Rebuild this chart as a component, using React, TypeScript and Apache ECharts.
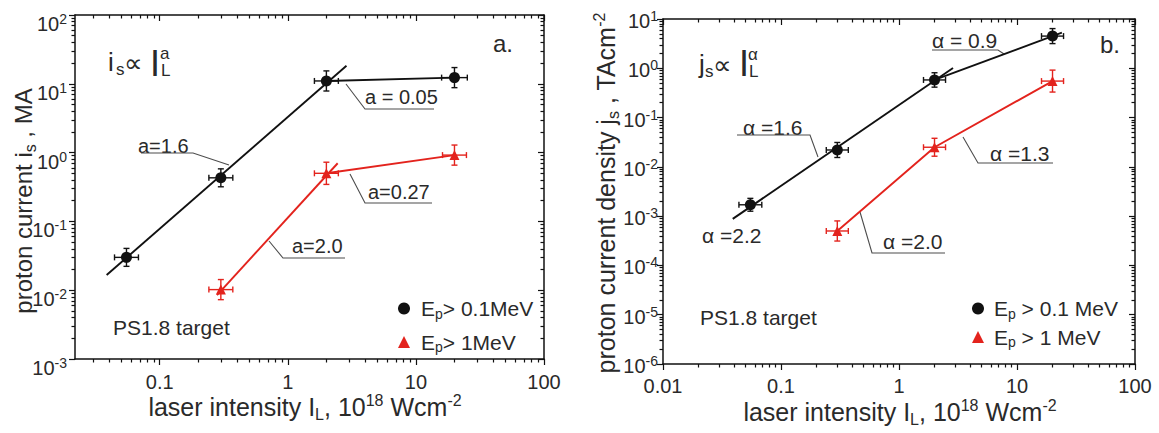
import React, { useEffect, useRef } from 'react';
import * as echarts from 'echarts';

const FONT = "'Liberation Sans', Arial, 'DejaVu Sans', sans-serif";
const TXT = '#2a2a2a';
const BLACK = '#111111';
const RED = '#e3231d';
const LEADER = '#4d4d4d';

// ---------------- Panel a ----------------
const aXRange = [0.0218, 100];
const aYRange = [1e-3, 100];
const aXTickValues = [0.1, 1, 10, 100];
const aXTickLabels = ['0.1', '1', '10', '100'];
const aYTickExponents = [-3, -2, -1, 0, 1, 2];

const aBlackIntensity = [0.055, 0.3, 2, 20];
const aBlackCurrent = [0.03, 0.43, 11, 12.3];
const aBlackXErr = [1.24, 1.24, 1.24, 1.26];
const aBlackYErr = [1.35, 1.35, 1.4, 1.4];
const aRedIntensity = [0.3, 2, 20];
const aRedCurrent = [0.0102, 0.5, 0.92];
const aRedXErr = [1.24, 1.24, 1.24];
const aRedYErr = [1.4, 1.45, 1.4];
const aBlackFitX = [0.0385, 2.87];
const aBlackFitY = [0.0166, 18.3];
const aRedFitX = [0.28, 2.45];
const aRedFitY = [0.0085, 0.7];
const aBlackTailX = [2, 20];
const aBlackTailY = [11, 12.3];
const aRedTailX = [2, 20];
const aRedTailY = [0.5, 0.92];

// ---------------- Panel b ----------------
const bXRange = [0.01, 100];
const bYRange = [1e-6, 10];
const bXTickValues = [0.01, 0.1, 1, 10, 100];
const bXTickLabels = ['0.01', '0.1', '1', '10', '100'];
const bYTickExponents = [-6, -5, -4, -3, -2, -1, 0, 1];

const bBlackIntensity = [0.055, 0.3, 2, 20];
const bBlackDensity = [0.0017, 0.022, 0.58, 4.5];
const bBlackXErr = [1.25, 1.24, 1.24, 1.24];
const bBlackYErr = [1.35, 1.42, 1.4, 1.42];
const bRedIntensity = [0.3, 2, 20];
const bRedDensity = [0.0005, 0.025, 0.55];
const bRedXErr = [1.24, 1.24, 1.24];
const bRedYErr = [1.6, 1.52, 1.67];
const bBlackFitX = [0.039, 2.87];
const bBlackFitY = [0.00088, 1.01];
const bBlackTailX = [2, 24];
const bBlackTailY = [0.58, 5.3];

const legendNamesA = ['Ep> 0.1MeV', 'Ep> 1MeV'];
const legendNamesB = ['Ep > 0.1 MeV', 'Ep > 1 MeV'];

const L = (v: number) => Math.log10(v);

function minorValues(lo: number, hi: number) {
  const out: number[] = [];
  for (let d = Math.floor(lo); d < Math.ceil(hi); d++) {
    for (let k = 2; k <= 9; k++) {
      const v = d + Math.log10(k);
      if (v >= lo - 1e-9 && v <= hi + 1e-9) out.push(v);
    }
  }
  return out;
}

const axisLineStyle = { color: BLACK, width: 1.5 };
const tickStyle = { color: BLACK, width: 1.2 };

function makeXAxes(grid: number, range: number[], vals: number[], labels: string[], margin: number) {
  const lo = L(range[0]);
  const hi = L(range[1]);
  const majors = vals.map(L);
  const minors = minorValues(lo, hi);
  const common = { type: 'value', gridIndex: grid, min: lo, max: hi, splitLine: { show: false } };
  return [
    {
      ...common,
      position: 'bottom',
      axisLine: { show: true, onZero: false, lineStyle: axisLineStyle },
      axisTick: { show: true, customValues: majors, length: 6, inside: false, lineStyle: tickStyle },
      axisLabel: {
        show: true,
        customValues: majors,
        margin,
        fontSize: 20,
        fontFamily: FONT,
        color: TXT,
        formatter: (v: number) => {
          const i = majors.findIndex((m) => Math.abs(m - v) < 1e-6);
          return i >= 0 ? labels[i] : '';
        },
      },
    },
    {
      ...common,
      position: 'bottom',
      axisLine: { show: false, onZero: false },
      axisTick: { show: true, customValues: minors, length: 3.5, inside: false, lineStyle: tickStyle },
      axisLabel: { show: false },
    },
    {
      ...common,
      position: 'top',
      axisLine: { show: true, onZero: false, lineStyle: axisLineStyle },
      axisTick: { show: true, customValues: majors, length: 6, inside: true, lineStyle: tickStyle },
      axisLabel: { show: false },
    },
    {
      ...common,
      position: 'top',
      axisLine: { show: false, onZero: false },
      axisTick: { show: true, customValues: minors, length: 3.5, inside: true, lineStyle: tickStyle },
      axisLabel: { show: false },
    },
  ];
}

function makeYAxes(grid: number, range: number[], exps: number[], margin: number, padTop: number, fs: number) {
  const lo = L(range[0]);
  const hi = L(range[1]);
  const majors = exps.slice();
  const minors = minorValues(lo, hi);
  const common = { type: 'value', gridIndex: grid, min: lo, max: hi, splitLine: { show: false } };
  return [
    {
      ...common,
      position: 'left',
      axisLine: { show: true, onZero: false, lineStyle: axisLineStyle },
      axisTick: { show: true, customValues: majors, length: 6, inside: false, lineStyle: tickStyle },
      axisLabel: {
        show: true,
        customValues: majors,
        margin,
        padding: [padTop, 0, 0, 0],
        formatter: (v: number) => `{b|10}{s|${Math.round(v)}}`,
        rich: {
          b: { fontSize: fs, lineHeight: fs + 2, verticalAlign: 'bottom', color: TXT, fontFamily: FONT },
          s: { fontSize: 14, lineHeight: 13, verticalAlign: 'top', color: TXT, fontFamily: FONT },
        },
      },
    },
    {
      ...common,
      position: 'left',
      axisLine: { show: false, onZero: false },
      axisTick: { show: true, customValues: minors, length: 3.5, inside: false, lineStyle: tickStyle },
      axisLabel: { show: false },
    },
    {
      ...common,
      position: 'right',
      axisLine: { show: true, onZero: false, lineStyle: axisLineStyle },
      axisTick: { show: true, customValues: majors, length: 6, inside: true, lineStyle: tickStyle },
      axisLabel: { show: false },
    },
    {
      ...common,
      position: 'right',
      axisLine: { show: false, onZero: false },
      axisTick: { show: true, customValues: minors, length: 3.5, inside: true, lineStyle: tickStyle },
      axisLabel: { show: false },
    },
  ];
}

function pairs(xs: number[], ys: number[]) {
  return xs.map((x, i) => [L(x), L(ys[i])]);
}

function errRows(xs: number[], ys: number[], xe: number[], ye: number[]) {
  return xs.map((x, i) => [L(x), L(ys[i]), L(x / xe[i]), L(x * xe[i]), L(ys[i] / ye[i]), L(ys[i] * ye[i])]);
}

function lineSeries(name: string, xi: number, yi: number, data: number[][], color: string) {
  return {
    name,
    type: 'line',
    xAxisIndex: xi,
    yAxisIndex: yi,
    data,
    showSymbol: false,
    symbol: 'none',
    silent: true,
    lineStyle: { color, width: 1.9 },
    z: 2,
  };
}

function errSeries(name: string, xi: number, yi: number, data: number[][], color: string) {
  return {
    name,
    type: 'custom',
    xAxisIndex: xi,
    yAxisIndex: yi,
    data,
    silent: true,
    encode: { x: 0, y: 1 },
    z: 3,
    renderItem: (params: any, api: any) => {
      const x = api.value(0);
      const y = api.value(1);
      const c = api.coord([x, y]);
      const xl = api.coord([api.value(2), y])[0];
      const xh = api.coord([api.value(3), y])[0];
      const yl = api.coord([x, api.value(4)])[1];
      const yh = api.coord([x, api.value(5)])[1];
      const cap = 3;
      const style = { stroke: color, lineWidth: 1.4 };
      const ln = (x1: number, y1: number, x2: number, y2: number) => ({ type: 'line', shape: { x1, y1, x2, y2 }, style });
      return {
        type: 'group',
        children: [
          ln(xl, c[1], xh, c[1]),
          ln(c[0], yl, c[0], yh),
          ln(xl, c[1] - cap, xl, c[1] + cap),
          ln(xh, c[1] - cap, xh, c[1] + cap),
          ln(c[0] - cap, yl, c[0] + cap, yl),
          ln(c[0] - cap, yh, c[0] + cap, yh),
        ],
      };
    },
  };
}

function scatterSeries(name: string, xi: number, yi: number, data: number[][], color: string, symbol: string, size: number) {
  return {
    name,
    type: 'scatter',
    xAxisIndex: xi,
    yAxisIndex: yi,
    data,
    symbol,
    symbolSize: size,
    itemStyle: { color, opacity: 1 },
    silent: true,
    z: 4,
  };
}

function txt(text: string, x: number, y: number, size: number) {
  return {
    type: 'text',
    x,
    y,
    silent: true,
    style: {
      text,
      fill: TXT,
      fontSize: size,
      fontFamily: FONT,
      align: 'left',
      verticalAlign: 'middle',
      textAlign: 'left',
      textVerticalAlign: 'middle',
    },
  };
}

function leader(points: number[][]) {
  return {
    type: 'polyline',
    silent: true,
    shape: { points },
    style: { stroke: LEADER, lineWidth: 1.1, fill: null },
  };
}

const titleRich = {
  m: { fontSize: 24, lineHeight: 30, verticalAlign: 'middle', fill: TXT, color: TXT, fontFamily: FONT },
  sub: { fontSize: 16, lineHeight: 10, verticalAlign: 'bottom', fill: TXT, color: TXT, fontFamily: FONT },
  sup: { fontSize: 16, lineHeight: 14, verticalAlign: 'top', fill: TXT, color: TXT, fontFamily: FONT },
};

function richTitle(text: string, x: number, y: number, rotation: number, size: number) {
  const rich = {
    m: { ...titleRich.m, fontSize: size },
    sub: titleRich.sub,
    sup: titleRich.sup,
  };
  return {
    type: 'text',
    x,
    y,
    rotation,
    silent: true,
    style: {
      text,
      rich,
      align: 'center',
      verticalAlign: 'middle',
      textAlign: 'center',
      textVerticalAlign: 'middle',
    },
  };
}

function legendOpt(names: string[], left: number, top: number, gap: number, pad: number) {
  return {
    show: true,
    orient: 'vertical',
    left,
    top,
    itemWidth: 12,
    itemHeight: 12,
    itemGap: gap,
    selectedMode: false,
    data: names,
    formatter: (name: string) => `{e|E}{sub|p}{m|${name.slice(2)}}`,
    textStyle: {
      color: TXT,
      fontFamily: FONT,
      fontSize: 21,
      rich: {
        e: { fontSize: 21, lineHeight: 24, verticalAlign: 'middle', color: TXT, fontFamily: FONT, padding: [0, 0, 0, pad] },
        m: { fontSize: 21, lineHeight: 24, verticalAlign: 'middle', color: TXT, fontFamily: FONT },
        sub: { fontSize: 14, lineHeight: 10, verticalAlign: 'bottom', color: TXT, fontFamily: FONT },
      },
    },
  };
}

function buildOption() {
  const graphics: any[] = [
    // panel a formula
    txt('i', 108, 62, 26),
    txt('s', 116, 69, 17),
    txt('∝', 124, 63, 26),
    txt('I', 150, 63, 36),
    txt('a', 160, 53, 17),
    txt('L', 161, 70, 17),
    txt('a.', 493, 43, 24),
    txt('a=1.6', 138, 146, 20),
    leader([[141, 153], [193, 153], [229, 165]]),
    txt('a = 0.05', 365, 97, 20),
    leader([[346, 84], [365, 109], [434, 109]]),
    txt('a=0.27', 368, 192, 20),
    leader([[350, 174], [365, 203], [432, 203]]),
    txt('a=2.0', 292, 246, 20),
    leader([[269, 241], [283, 258], [345, 258]]),
    txt('PS1.8 target', 113, 327, 21),
    richTitle('{m|laser intensity I}{sub|L}{m|, 10}{sup|18}{m| Wcm}{sup|-2}', 305, 407, 0, 25),
    richTitle('{m|proton current i}{sub|s}{m| , MA}', 23, 201, Math.PI / 2, 24),
    // panel b formula
    txt('j', 699, 64, 26),
    txt('s', 705, 71, 17),
    txt('∝', 713, 65, 26),
    txt('I', 739, 63, 36),
    txt('α', 748, 54, 17),
    txt('L', 749, 71, 17),
    txt('b.', 1100, 44, 24),
    txt('α =1.6', 743, 127, 21),
    leader([[737, 135], [810, 135], [818, 157]]),
    txt('α = 0.9', 932, 40, 21),
    leader([[932, 50], [998, 50], [1004, 54]]),
    txt('α =1.3', 990, 153, 21),
    leader([[963, 137], [978, 163], [1053, 163]]),
    txt('α =2.0', 883, 241, 21),
    leader([[860, 212], [872, 253], [945, 253]]),
    txt('α =2.2', 702, 235, 21),
    txt('PS1.8 target', 700, 317, 21),
    richTitle('{m|laser intensity I}{sub|L}{m|, 10}{sup|18}{m| Wcm}{sup|-2}', 900, 412, 0, 25),
    richTitle('{m|proton current density j}{sub|s}{m| , TAcm}{sup|-2}', 606, 193, Math.PI / 2, 25),
  ];

  return {
    animation: false,
    backgroundColor: '#ffffff',
    textStyle: { fontFamily: FONT },
    grid: [
      { left: 75, top: 15, width: 469, height: 344, containLabel: false, outerBoundsMode: 'none' },
      { left: 663, top: 19, width: 472, height: 345, containLabel: false, outerBoundsMode: 'none' },
    ],
    xAxis: [
      ...makeXAxes(0, aXRange, aXTickValues, aXTickLabels, 13),
      ...makeXAxes(1, bXRange, bXTickValues, bXTickLabels, 12),
    ],
    yAxis: [
      ...makeYAxes(0, aYRange, aYTickExponents, 8, 16, 20),
      ...makeYAxes(1, bYRange, bYTickExponents, 5, 2, 20),
    ],
    legend: [legendOpt(legendNamesA, 393, 293, 11, 6), legendOpt(legendNamesB, 967, 293, 6, 5)],
    series: [
      // panel a
      lineSeries('a fit black', 0, 0, pairs(aBlackFitX, aBlackFitY), BLACK),
      lineSeries('a tail black', 0, 0, pairs(aBlackTailX, aBlackTailY), BLACK),
      lineSeries('a fit red', 0, 0, pairs(aRedFitX, aRedFitY), RED),
      lineSeries('a tail red', 0, 0, pairs(aRedTailX, aRedTailY), RED),
      errSeries('a err black', 0, 0, errRows(aBlackIntensity, aBlackCurrent, aBlackXErr, aBlackYErr), BLACK),
      errSeries('a err red', 0, 0, errRows(aRedIntensity, aRedCurrent, aRedXErr, aRedYErr), RED),
      scatterSeries(legendNamesA[0], 0, 0, pairs(aBlackIntensity, aBlackCurrent), BLACK, 'circle', 11),
      scatterSeries(legendNamesA[1], 0, 0, pairs(aRedIntensity, aRedCurrent), RED, 'triangle', 10),
      // panel b
      lineSeries('b fit black', 4, 4, pairs(bBlackFitX, bBlackFitY), BLACK),
      lineSeries('b tail black', 4, 4, pairs(bBlackTailX, bBlackTailY), BLACK),
      lineSeries('b red', 4, 4, pairs(bRedIntensity, bRedDensity), RED),
      errSeries('b err black', 4, 4, errRows(bBlackIntensity, bBlackDensity, bBlackXErr, bBlackYErr), BLACK),
      errSeries('b err red', 4, 4, errRows(bRedIntensity, bRedDensity, bRedXErr, bRedYErr), RED),
      scatterSeries(legendNamesB[0], 4, 4, pairs(bBlackIntensity, bBlackDensity), BLACK, 'circle', 11),
      scatterSeries(legendNamesB[1], 4, 4, pairs(bRedIntensity, bRedDensity), RED, 'triangle', 10),
    ],
    graphic: { elements: graphics },
  };
}

export default function App() {
  const ref = useRef<HTMLDivElement>(null);
  useEffect(() => {
    if (!ref.current) return;
    const chart = echarts.init(ref.current, undefined, { renderer: 'svg' });
    chart.setOption(buildOption() as any);
    return () => chart.dispose();
  }, []);
  return (
    <div
      ref={ref}
      style={{ position: 'absolute', left: 0, top: 0, width: 1159, height: 433, background: '#ffffff' }}
    />
  );
}
